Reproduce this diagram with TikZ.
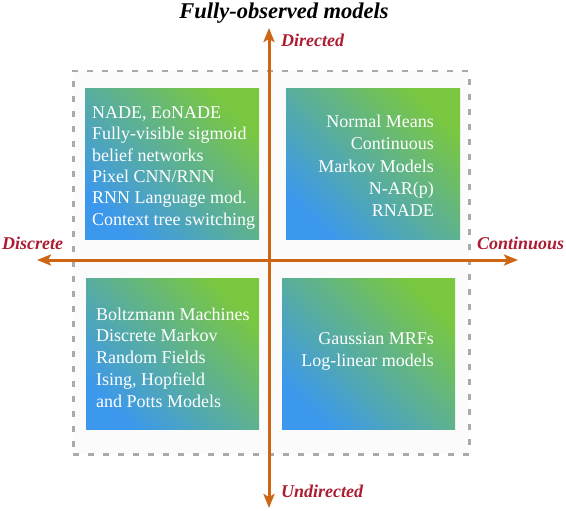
\documentclass[tikz,border=0pt]{standalone}
\usepackage{fontspec}
\setmainfont{Liberation Serif}
\usetikzlibrary{arrows.meta}
\definecolor{qblue}{RGB}{60,152,236}
\definecolor{qgreen}{RGB}{122,199,64}
\definecolor{axiscol}{RGB}{204,102,20}
\definecolor{labcol}{RGB}{172,28,50}
\definecolor{framecol}{RGB}{170,170,170}
\tikzset{
  qbox/.style={draw=none, inner sep=0pt, anchor=north west,
    left color=qblue, right color=qgreen, shading angle=135},
  qtext/.style={text=white, inner sep=0pt, font=\fontsize{18}{21.5}\selectfont},
  axisline/.style={draw=axiscol, line width=3pt,
    {Stealth[length=14pt,width=11pt,inset=3pt]}-{Stealth[length=14pt,width=11pt,inset=3pt]}},
  axislab/.style={text=labcol, inner sep=0pt, anchor=base west,
    font=\fontsize{18}{21}\selectfont\bfseries\itshape},
  framebox/.style={draw=framecol, line width=2.5pt, dash pattern=on 6pt off 9pt,
    fill=gray!3, inner sep=0pt, anchor=north west}
}
\begin{document}
\begin{tikzpicture}[x=1pt,y=-1pt]
\useasboundingbox (0,0) rectangle (566,511);
\node[framebox, minimum width=396pt, minimum height=383pt] (frame) at (72,70) {};
\node[qbox, minimum width=174pt, minimum height=151pt] (tl) at (85,88) {};
\node[qbox, minimum width=174pt, minimum height=151pt] (tr) at (286,88) {};
\node[qbox, minimum width=173pt, minimum height=151pt] (bl) at (86,278) {};
\node[qbox, minimum width=173pt, minimum height=151pt] (br) at (282,278) {};
\node[qtext, align=left, anchor=base west] (tltext) at (92,225.5)
  {NADE, EoNADE\\Fully-visible sigmoid\\belief networks\\Pixel CNN/RNN\\RNN Language mod.\\Context tree switching};
\node[qtext, align=right, anchor=base east, font=\fontsize{18}{22.5}\selectfont] (trtext) at (434,217)
  {Normal Means\\Continuous\\Markov Models\\N-AR(p)\\RNADE};
\node[qtext, align=left, anchor=base west, font=\fontsize{18}{21.75}\selectfont] (bltext) at (96,407)
  {Boltzmann Machines\\Discrete Markov\\Random Fields\\Ising, Hopfield\\and Potts Models};
\node[qtext, align=right, anchor=base east, font=\fontsize{18}{22}\selectfont] (brtext) at (434,366)
  {Gaussian MRFs\\Log-linear models};
\coordinate (T) at (269,28);
\coordinate (B) at (269,508);
\coordinate (L) at (37,260);
\coordinate (R) at (518,260);
\draw[axisline] (B) -- (T);
\draw[axisline] (L) -- (R);
\node[inner sep=0pt, anchor=base, font=\fontsize{22.5}{26}\selectfont\bfseries\itshape] (title) at (284,18.5) {Fully-observed models};
\node[axislab] (dir) at (281,47) {Directed};
\node[axislab] (undir) at (281,497) {Undirected};
\node[axislab] (disc) at (2,250) {Discrete};
\node[axislab] (cont) at (477,250) {Continuous};
\end{tikzpicture}
\end{document}
